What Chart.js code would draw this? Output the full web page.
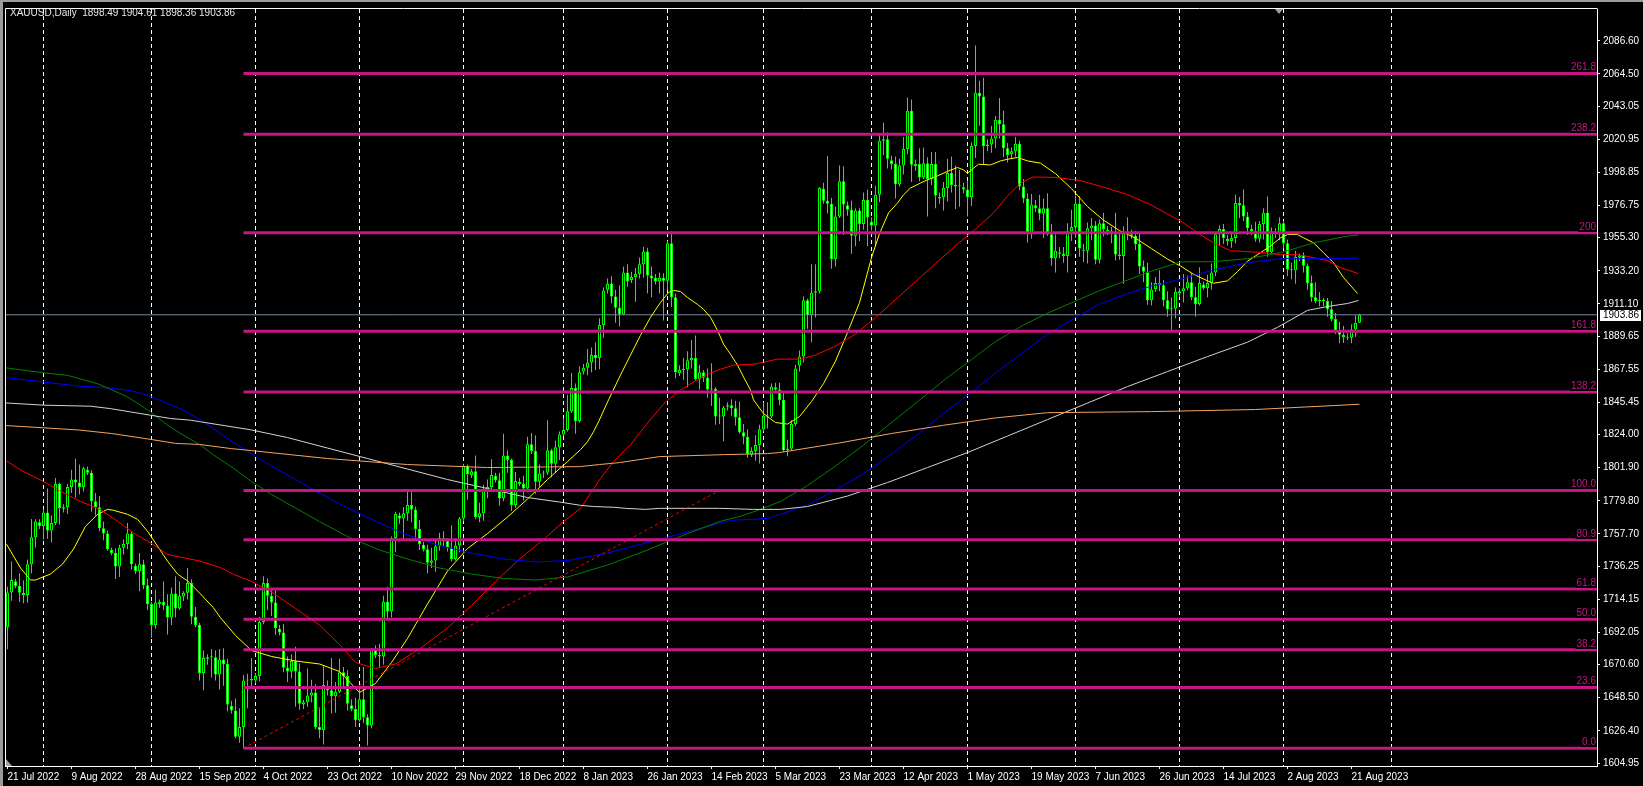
<!DOCTYPE html>
<html><head><meta charset="utf-8">
<script src="https://cdn.jsdelivr.net/npm/chart.js@4.4.1/dist/chart.umd.min.js"></script>
<style>html,body{margin:0;padding:0;background:#000;overflow:hidden}</style>
</head><body>
<canvas id="c" width="1643" height="786"></canvas>
<script>
// ---- categories: one daily bar per day (no Saturday bars), from 21 Jul 2022 ----
const firstBarDate = '2022-07-21';
const closedDays = ['2022-12-25','2023-01-01','2023-04-07'];
const lastGridDate = '2023-09-01';

// ---- OHLC series (one line per week) ----
const opens = [
1695.5,1718.7,
1726.2,1723.0,1718.5,1717.0,1737.5,1755.5,
1765.5,1763.0,1772.0,1760.0,1765.0,1791.0,
1774.5,1775.5,1789.0,1794.0,1792.0,1789.0,
1800.5,1798.5,1779.5,1775.5,1761.5,1758.0,
1747.0,1745.0,1736.0,1748.5,1751.0,1758.0,
1736.5,1733.0,1737.5,1723.5,1711.0,1697.0,
1711.0,1712.5,1710.0,1702.0,1718.0,1708.0,
1716.0,1718.5,1725.0,1702.5,1697.0,1665.0,
1674.5,1675.5,1675.5,1664.0,1674.0,1671.0,
1643.0,1640.0,1622.5,1629.0,1660.0,1660.0,
1660.0,1663.0,1699.0,1725.0,1716.5,1712.0,
1694.5,1692.0,1668.5,1666.0,1673.0,1666.0,
1644.0,1645.5,1650.0,1652.0,1629.0,1627.0,
1656.0,1653.5,1649.5,1652.5,1665.5,1663.0,
1643.5,1641.0,1633.5,1647.5,1635.5,1630.0,
1680.5,1677.0,1676.0,1712.5,1706.0,1755.0,
1770.0,1768.0,1771.5,1777.0,1774.0,1761.0,
1750.5,1747.5,1738.5,1740.0,1749.5,1755.0,
1753.0,1748.5,1741.0,1750.0,1768.0,1803.0,
1797.0,1799.5,1769.0,1771.5,1786.5,1789.0,
1796.5,1793.5,1781.5,1810.0,1807.0,1777.0,
1792.5,1791.0,1788.0,1817.5,1813.0,1792.5,
1798.0,1798.5,1813.5,1804.5,1815.5,
1824.0,1827.0,1839.5,1855.0,1833.0,
1866.0,1868.5,1872.0,1877.0,1875.0,1897.0,
1920.5,1924.5,1916.0,1908.5,1904.0,1932.0,
1927.0,1929.0,1931.0,1937.5,1946.0,1930.0,
1928.5,1926.0,1928.5,1926.5,1951.5,1915.5,
1865.0,1867.0,1867.5,1873.5,1875.0,1861.0,
1865.5,1862.0,1854.0,1854.5,1836.0,1836.0,
1842.5,1843.5,1841.5,1835.5,1825.5,1822.5,
1810.5,1813.0,1817.0,1827.5,1836.5,1836.0,
1855.5,1854.0,1847.0,1813.5,1814.5,1831.0,
1870.0,1876.0,1913.5,1903.5,1918.5,1919.5,
1988.0,1980.0,1978.0,1941.0,1969.5,1993.0,
1977.0,1974.0,1956.5,1973.5,1964.5,1980.5,
1966.0,1963.5,1984.0,2020.0,2021.0,
2007.0,2004.5,1991.0,2003.5,2014.5,2040.0,
2003.0,2004.5,1995.5,2005.0,1994.5,2004.5,
1981.5,1982.5,1988.5,1998.5,1990.5,1989.5,
1989.0,1987.5,1982.5,2016.5,2052.0,2049.5,
2016.5,2017.5,2021.5,2034.0,2031.0,2015.0,
2011.0,2013.0,2018.0,1989.5,1981.5,1958.5,
1977.0,1975.0,1971.5,1975.0,1957.5,1941.5,
1945.5,1944.5,1943.0,1959.5,1962.5,1978.0,
1947.0,1946.5,1961.5,1963.5,1940.5,1965.0,
1960.5,1959.5,1957.5,1944.0,1943.0,1958.0,
1957.5,1956.5,1951.0,1936.0,1932.5,1913.5,
1921.0,1925.0,1923.5,1913.5,1907.5,1908.0,
1918.0,1919.5,1921.5,1925.5,1915.5,1911.0,
1924.0,1921.5,1925.0,1932.0,1957.5,1961.0,
1954.5,1953.0,1955.0,1978.5,1977.0,1969.5,
1961.0,1959.5,1954.5,1964.5,1972.0,1945.5,
1959.0,1957.5,1965.0,1951.5,1934.0,1933.5,
1942.0,1943.5,1936.5,1925.0,1915.5,1913.0,
1913.0,1913.0,1907.5,1901.0,1893.5,1890.5,
1889.0,1888.5,1894.0,1898.49];

const highs = [
1722.5,1739.4,
1727.8,1731.5,1726.8,1740.6,1767.6,1767.5,
1767.5,1774.2,1788.0,1770.0,1795.0,1792.0,
1777.5,1791.0,1800.5,1807.9,1804.0,1802.5,
1802.5,1800.0,1785.0,1783.0,1766.0,1760.0,
1748.5,1748.0,1750.5,1754.0,1765.0,1759.5,
1738.0,1745.0,1740.5,1728.0,1712.5,1720.5,
1714.0,1726.0,1717.5,1722.0,1729.5,1726.0,
1719.5,1735.0,1727.5,1709.0,1698.5,1680.0,
1677.5,1681.0,1680.0,1681.0,1681.5,1674.5,
1646.5,1648.0,1641.5,1663.5,1664.5,1675.0,
1665.0,1702.5,1729.5,1728.0,1721.5,1720.0,
1697.0,1697.5,1676.0,1677.5,1682.5,1671.5,
1647.0,1668.0,1660.5,1657.5,1641.5,1669.5,
1660.0,1675.0,1659.0,1674.5,1669.0,1667.0,
1647.5,1648.5,1656.5,1669.0,1637.5,1681.5,
1683.5,1684.5,1716.5,1722.5,1756.0,1772.5,
1772.0,1775.5,1786.5,1785.5,1776.0,1767.0,
1752.5,1750.5,1748.5,1754.5,1758.5,1759.5,
1755.0,1763.5,1754.5,1769.0,1804.5,1804.0,
1801.0,1810.0,1778.5,1790.5,1794.0,1807.5,
1798.5,1798.5,1824.5,1813.5,1808.0,1799.0,
1795.0,1796.5,1822.5,1825.0,1823.5,1804.0,
1800.0,1833.5,1814.5,1820.0,1826.0,
1835.0,1850.5,1865.0,1858.0,1869.5,
1871.0,1881.0,1882.0,1885.5,1901.5,1922.0,
1928.0,1929.5,1920.5,1923.5,1936.0,1937.5,
1932.5,1935.0,1942.0,1949.0,1948.5,1936.0,
1931.0,1932.0,1931.5,1953.0,1959.6,1918.0,
1870.0,1875.0,1879.5,1887.0,1890.0,1870.5,
1867.0,1868.0,1871.5,1855.5,1848.5,1843.0,
1845.5,1847.5,1846.5,1846.0,1831.0,1827.5,
1815.5,1823.5,1830.5,1845.5,1845.5,1858.0,
1858.5,1858.5,1853.0,1820.5,1833.5,1870.5,
1880.0,1916.0,1914.5,1937.5,1937.5,1989.0,
1992.0,2009.8,1982.0,1976.0,2003.5,2003.0,
1979.5,1980.0,1975.0,1975.0,1985.5,1987.5,
1969.0,1990.0,2025.0,2032.0,2025.5,
2010.0,2009.5,2008.0,2022.5,2048.7,2047.5,
2007.5,2015.0,2015.5,2009.0,2012.5,2012.5,
1985.5,1992.5,2008.0,2009.5,2003.5,2000.5,
1992.0,1993.5,2019.0,2083.5,2060.0,2062.0,
2021.0,2030.0,2036.5,2048.5,2040.0,2018.5,
2015.5,2022.5,2020.0,1994.5,1985.0,1984.5,
1980.5,1984.0,1981.5,1985.0,1964.5,1957.5,
1949.0,1949.0,1965.0,1974.0,1983.5,1983.0,
1951.0,1965.5,1968.5,1966.5,1967.5,1972.0,
1963.0,1962.5,1972.0,1958.0,1963.0,1969.0,
1960.5,1959.5,1958.0,1940.0,1938.5,1925.5,
1929.0,1933.5,1927.0,1919.5,1915.5,1922.0,
1921.5,1931.0,1930.0,1931.5,1922.5,1935.5,
1926.0,1930.5,1938.0,1959.0,1963.5,1964.5,
1957.0,1958.5,1984.0,1982.5,1987.5,1972.5,
1964.0,1966.0,1966.5,1975.0,1982.7,1962.0,
1961.5,1969.0,1966.5,1954.0,1938.5,1946.5,
1944.5,1945.5,1938.0,1930.0,1925.5,1919.0,
1915.0,1915.0,1913.0,1905.0,1899.0,1896.5,
1891.5,1897.5,1903.5,1904.61];

const lows = [
1680.8,1713.2,
1721.5,1712.3,1711.5,1711.8,1731.5,1748.6,
1761.0,1754.0,1754.5,1752.0,1763.5,1764.0,
1772.0,1771.0,1785.0,1782.0,1784.0,1786.0,
1797.0,1772.5,1770.0,1759.5,1753.5,1746.5,
1743.5,1727.7,1729.0,1744.0,1747.5,1734.0,
1731.0,1719.5,1720.8,1707.0,1688.5,1694.5,
1708.5,1707.0,1690.6,1697.0,1702.0,1707.0,
1713.0,1714.0,1697.5,1695.5,1660.0,1653.5,
1670.5,1662.0,1660.0,1654.0,1656.5,1639.5,
1638.0,1621.5,1618.5,1614.9,1641.5,1655.0,
1658.0,1659.5,1697.5,1707.0,1703.0,1690.5,
1690.0,1665.5,1659.0,1661.5,1642.5,1640.5,
1641.0,1642.5,1645.5,1627.5,1621.5,1617.3,
1650.0,1638.0,1638.5,1651.5,1654.5,1640.0,
1639.5,1629.0,1632.5,1631.5,1616.7,1628.0,
1675.0,1668.5,1670.5,1700.0,1702.0,1745.5,
1764.5,1753.5,1766.5,1765.5,1754.0,1747.0,
1746.0,1731.5,1735.0,1732.5,1746.5,1749.0,
1746.0,1739.5,1740.0,1745.5,1766.0,1780.5,
1795.0,1767.5,1765.5,1766.5,1781.5,1785.5,
1792.0,1776.5,1779.5,1798.5,1773.0,1775.0,
1789.5,1780.0,1785.5,1811.0,1784.5,1789.0,
1795.0,1797.0,1795.5,1798.5,1807.0,
1823.0,1826.0,1838.5,1824.5,1832.0,
1864.0,1863.5,1865.5,1867.0,1867.5,1888.5,
1918.0,1911.5,1898.5,1896.0,1903.5,1922.5,
1925.0,1912.5,1928.0,1928.5,1918.0,1915.5,
1924.0,1918.0,1900.0,1920.5,1909.0,1861.5,
1863.0,1860.5,1855.5,1868.0,1860.0,1854.0,
1859.0,1848.5,1843.0,1830.5,1831.0,1819.5,
1840.0,1836.5,1830.0,1824.5,1817.5,1808.5,
1809.0,1806.5,1804.7,1826.0,1828.0,1835.0,
1853.0,1843.5,1812.5,1809.5,1813.0,1829.5,
1866.0,1872.0,1894.5,1885.5,1902.0,1918.0,
1978.0,1971.5,1934.5,1936.0,1968.5,1957.0,
1970.0,1944.5,1949.5,1953.0,1960.5,1949.5,
1960.0,1949.5,1979.0,2010.5,2001.5,
2001.0,1981.5,1989.5,1997.5,2011.0,1992.5,
2000.0,1993.0,1994.5,1969.5,1990.5,1975.0,
1978.0,1973.5,1979.5,1985.5,1974.5,1976.0,
1985.0,1969.5,1976.5,2008.5,2030.0,2004.0,
2013.0,2012.0,2015.0,2021.5,2009.0,2005.5,
2008.0,2009.5,1987.0,1978.5,1952.0,1954.5,
1972.5,1967.0,1955.0,1956.5,1936.5,1932.0,
1941.5,1938.5,1932.0,1953.0,1955.0,1942.5,
1939.0,1938.0,1953.5,1937.5,1938.0,1956.0,
1957.0,1951.5,1940.0,1940.5,1924.5,1953.5,
1954.5,1947.0,1931.0,1925.5,1910.5,1910.0,
1919.0,1919.5,1909.5,1902.5,1893.0,1901.5,
1915.5,1912.0,1920.0,1913.5,1902.5,1910.0,
1920.5,1915.5,1920.5,1929.5,1950.0,1951.0,
1950.0,1948.5,1951.5,1968.5,1966.5,1957.0,
1957.0,1952.5,1952.0,1954.0,1942.5,1945.0,
1955.0,1953.5,1948.0,1929.5,1927.5,1924.5,
1939.5,1932.0,1920.5,1912.5,1911.5,1909.5,
1909.5,1902.5,1899.5,1891.0,1884.9,1885.0,
1887.0,1884.9,1889.0,1898.36];

const closes = [
1718.7,1727.0,
1723.0,1718.5,1717.0,1737.5,1755.5,1766.0,
1763.0,1772.0,1760.0,1765.0,1791.0,1775.0,
1775.5,1789.0,1794.0,1792.0,1789.0,1801.5,
1798.5,1779.5,1775.5,1761.5,1758.0,1747.5,
1745.0,1736.0,1748.5,1751.0,1758.0,1737.5,
1733.0,1737.5,1723.5,1711.0,1697.0,1712.0,
1712.5,1710.0,1702.0,1718.0,1708.0,1716.5,
1718.5,1725.0,1702.5,1697.0,1665.0,1675.0,
1675.5,1675.5,1664.0,1674.0,1671.0,1644.0,
1640.0,1622.5,1629.0,1660.0,1660.0,1661.0,
1663.0,1699.0,1725.0,1716.5,1712.0,1695.0,
1692.0,1668.5,1666.0,1673.0,1666.0,1644.5,
1645.5,1650.0,1652.0,1629.0,1627.0,1657.0,
1653.5,1649.5,1652.5,1665.5,1663.0,1644.5,
1641.0,1633.5,1647.5,1635.5,1630.0,1681.0,
1677.0,1676.0,1712.5,1706.0,1755.0,1771.0,
1768.0,1771.5,1777.0,1774.0,1761.0,1751.0,
1747.5,1738.5,1740.0,1749.5,1755.0,1754.0,
1748.5,1741.0,1750.0,1768.0,1803.0,1797.5,
1799.5,1769.0,1771.5,1786.5,1789.0,1797.0,
1793.5,1781.5,1810.0,1807.0,1777.0,1793.0,
1791.0,1788.0,1817.5,1813.0,1792.5,1798.0,
1798.5,1813.5,1804.5,1815.5,1824.0,
1827.0,1839.5,1855.0,1833.0,1865.5,
1868.5,1872.0,1877.0,1875.0,1897.0,1920.0,
1924.5,1916.0,1908.5,1904.0,1932.0,1926.0,
1929.0,1931.0,1937.5,1946.0,1930.0,1928.0,
1926.0,1928.5,1926.5,1951.5,1915.5,1865.5,
1867.0,1867.5,1873.5,1875.0,1861.0,1865.5,
1862.0,1854.0,1854.5,1836.0,1836.0,1842.0,
1843.5,1841.5,1835.5,1825.5,1822.5,1811.0,
1813.0,1817.0,1827.5,1836.5,1836.0,1856.0,
1854.0,1847.0,1813.5,1814.5,1831.0,1868.0,
1876.0,1913.5,1903.5,1918.5,1919.5,1988.5,
1980.0,1978.0,1941.0,1969.5,1993.0,1977.5,
1974.0,1956.5,1973.5,1964.5,1980.5,1969.0,
1963.5,1984.0,2020.0,2021.0,2008.0,
2004.5,1991.0,2003.5,2014.5,2040.0,2004.0,
2004.5,1995.5,2005.0,1994.5,2004.5,1983.5,
1982.5,1988.5,1998.5,1990.5,1989.5,1990.0,
1987.5,1982.5,2016.5,2052.0,2049.5,2016.5,
2017.5,2021.5,2034.0,2031.0,2015.0,2010.5,
2013.0,2018.0,1989.5,1981.5,1958.5,1977.5,
1975.0,1971.5,1975.0,1957.5,1941.5,1946.5,
1944.5,1943.0,1959.5,1962.5,1978.0,1948.0,
1946.5,1961.5,1963.5,1940.5,1965.0,1961.0,
1959.5,1957.5,1944.0,1943.0,1958.0,1958.0,
1956.5,1951.0,1936.0,1932.5,1913.5,1920.5,
1925.0,1923.5,1913.5,1907.5,1908.0,1919.0,
1919.5,1921.5,1925.5,1915.5,1911.0,1925.0,
1921.5,1925.0,1932.0,1957.5,1961.0,1955.0,
1953.0,1955.0,1978.5,1977.0,1969.5,1961.5,
1959.5,1954.5,1964.5,1972.0,1945.5,1959.5,
1957.5,1965.0,1951.5,1934.0,1933.5,1942.5,
1943.5,1936.5,1925.0,1915.5,1913.0,1913.5,
1913.0,1907.5,1901.0,1893.5,1890.5,1889.0,
1888.5,1894.0,1898.5,1903.86];

// ---- moving averages: [bar index, price] ----
const maYellow = [[-0.25,1750.9],[3.25,1735.0],[5.75,1727.0],[7,1727.0],[10.75,1731.0],[13.75,1737.6],[16.5,1747.6],[19.5,1762.8],[22.5,1770.8],[25,1774.1],[26.5,1773.5],[30,1770.8],[32.5,1767.5],[35,1759.5],[37.5,1749.6],[40,1739.6],[42.5,1731.0],[45,1726.4],[48.25,1717.7],[51.5,1708.4],[53.25,1701.8],[57,1690],[61,1680],[66,1676],[72,1673],[78,1671],[83,1666],[88,1652],[92,1658],[96,1672],[100,1688],[105,1711],[110,1733],[115,1748],[120,1758],[125,1769],[130,1781],[135,1794],[140,1806],[143.25,1813.9],[145,1819.2],[146.5,1825.9],[147.75,1832.5],[150.25,1847.1],[153.25,1863.7],[155.75,1877.0],[158.25,1890.2],[160.75,1902.2],[163.25,1912.1],[165.25,1918.8],[166.5,1920.1],[168.25,1919.4],[170,1915.4],[172.5,1910.8],[174,1907.5],[175.75,1902.2],[177.5,1893.5],[179,1884.3],[180.75,1877.6],[182.5,1870.3],[184,1862.4],[185.75,1853.7],[186.5,1847.1],[189,1838],[192,1832],[195,1831],[198,1836],[201,1846],[204,1858],[207,1873],[210,1892],[213,1912],[216,1942],[218,1958],[220.25,1971.8],[222.5,1978.4],[224,1983.9],[225.75,1988.4],[228.25,1991.7],[230,1993.9],[232.5,1996.5],[235,1999.5],[237.5,2002.1],[239,2000.5],[240,1998.3],[241.5,2001.6],[242.75,2004.3],[245.75,2003.8],[248.25,2006.5],[250,2007.6],[252.5,2008.8],[255,2006.5],[258.25,2005],[262,1998],[266,1988],[270,1976],[274,1967],[278,1960],[282,1955],[286,1948],[290,1941],[293.25,1936.4],[296.5,1930.9],[300,1926.5],[301.5,1924.9],[305,1926.5],[307.5,1932.7],[310,1939.6],[313.25,1945.3],[315.75,1949.7],[318.25,1955.2],[320,1957.4],[322.5,1957.4],[324,1955.2],[326.5,1951.9],[329,1945.3],[331.5,1938.6],[334,1928.7],[337.5,1918.1]];
const maRed = [[-0.25,1806.4],[3.25,1800.4],[9,1792.7],[13.25,1786.1],[18.25,1779.4],[23.25,1773.9],[27.5,1766.2],[31.5,1758.4],[35.75,1751.8],[40,1744.1],[44,1741.8],[48.25,1739.6],[53.25,1735.2],[56.5,1730.8],[60.75,1726.4],[66,1719],[72,1708],[78,1697],[83,1684],[87,1672],[92,1668],[97,1671],[103,1681],[110,1695],[116,1710],[122,1726],[128,1741],[134,1754],[139,1766],[143.25,1774.8],[145.75,1784.8],[148.25,1794.7],[151.5,1806],[155.75,1817.2],[160.25,1832.5],[164.5,1845.8],[168.25,1853.7],[171.5,1859],[175,1864.3],[178.25,1867.6],[181.5,1870.3],[186.5,1870.9],[189,1872.3],[192.5,1874.3],[198.25,1874.3],[202,1877],[207,1883],[212,1891],[217,1902],[222,1914],[227,1926],[232,1938],[237,1950],[242,1961],[246.5,1971.8],[250,1983.1],[253.25,1991.7],[256.25,1995.7],[258.25,1995.7],[262,1995.5],[268,1993.5],[274,1989],[280,1984],[286,1977],[290,1971],[293.25,1966.5],[296.5,1960.5],[298.25,1957.2],[301.5,1951.9],[305.75,1946.6],[310,1946],[314,1945.3],[318.25,1944],[322.5,1944],[326.5,1942],[330,1940],[333.25,1935.3],[337.75,1931.3]];
const maGreen = [[-0.5,1868.5],[9,1865.2],[15,1863.5],[22.5,1857.9],[25.75,1854.2],[30,1849.1],[33.25,1843.6],[35.75,1839.1],[40,1830.3],[43.25,1824.7],[48.25,1817.0],[51.5,1810.4],[56.5,1801.5],[60.75,1793.2],[66,1784],[72,1775],[78,1766],[85,1756],[93,1747],[100,1741],[108,1735],[116,1731],[124,1728],[132,1727],[140,1729],[150,1737],[160,1747],[170,1758],[178.25,1766.2],[183.25,1769.5],[188.25,1774.1],[193.25,1779.4],[200,1790],[207,1803],[214,1817],[221,1832],[228,1847],[234,1860],[241,1874],[247,1886],[254,1897],[260,1905],[267,1913],[273,1920],[280,1927],[286,1933],[293.25,1939.1],[301.5,1939.3],[310,1941.3],[318.25,1945.3],[322.5,1948.6],[326.5,1951.9],[330,1953.7],[335,1956.4],[337.75,1957.0]];
const maBlue = [[-0.5,1862.1],[9,1859.0],[18.25,1856.2],[23.25,1855.5],[28.25,1854.2],[31.5,1852.9],[35.75,1849.5],[40,1844.6],[44,1840.3],[49,1832.5],[55,1821.4],[60.75,1811.5],[66,1803],[72,1794],[78,1785],[85,1775],[93,1765],[100,1757],[108,1750],[116,1745],[124,1741],[132,1739],[140,1740],[150,1745],[160,1752],[170,1759],[180.75,1766.8],[186.5,1767.5],[190,1768.1],[193.25,1770.8],[200,1777],[207,1787],[214,1798],[221,1811],[228,1825],[234,1838],[241,1852],[247,1865],[254,1879],[260,1891],[267,1902],[273,1911],[280,1918],[286,1923],[293.25,1927.6],[301.5,1933.8],[310,1938.6],[318.25,1941.3],[326.5,1941.3],[337.75,1941.6]];
const maWhite = [[-0.5,1845.1],[9,1843.6],[20.75,1842.9],[25.75,1841.3],[30.75,1839.1],[35.75,1836.9],[40.75,1834.7],[45.75,1833.6],[48.25,1832.5],[60.75,1827.2],[70,1822],[80,1815],[90,1808],[100,1801],[110,1794],[120,1788],[130,1782],[138,1779],[143.25,1776.8],[146.5,1776],[151.5,1775.5],[154.5,1774.8],[159.5,1774.1],[163,1774.8],[178,1774.8],[186.5,1774.1],[193.25,1774.1],[200,1776],[210,1783],[220,1792],[230,1802],[240,1812],[250,1823],[260,1834],[270,1845],[280,1856],[290,1866],[300,1876],[310,1885.6],[317.5,1895.5],[325,1906.8],[330,1909.4],[335,1911.4],[337.75,1913.4]];
const maOrange = [[-0.5,1830.0],[9,1828.5],[18,1827.0],[26,1824.7],[36,1820.7],[42,1818.1],[48,1817.4],[56,1814.6],[61,1813.3],[80,1808],[100,1804],[120,1802],[143,1802.6],[148,1804.0],[153,1805.3],[163,1809.3],[179,1810.6],[190,1811.3],[193,1812.0],[208,1818.4],[221,1824.7],[234,1830.2],[247,1835.1],[260,1838.6],[286,1839.3],[312,1840.7],[338,1844.2]];

// ---- Fibonacci object ----
const fibLow = 1614.8, fibHigh = 1786.7;
const fibStartDate = '2022-09-28', fibEndDate = '2023-02-16';
const fibLevels = [0,23.6,38.2,50,61.8,80.9,100,138.2,161.8,200,238.2,261.8];
const fibTexts  = ['0.0','23.6','38.2','50.0','61.8','80.9','100.0','138.2','161.8','200','238.2','261.8'];

// ---- axes ----
const yTicks = [1604.95,1626.40,1648.50,1670.60,1692.05,1714.15,1736.25,1757.70,1779.80,1801.90,1824.00,1845.45,1867.55,1889.65,1911.10,1933.20,1955.30,1976.75,1998.85,2020.95,2043.05,2064.50,2086.60];
const labelDates = ['2022-07-21','2022-08-09','2022-08-28','2022-09-15','2022-10-04','2022-10-23','2022-11-10','2022-11-29','2022-12-18','2023-01-08','2023-01-26','2023-02-14','2023-03-05','2023-03-23','2023-04-12','2023-05-01','2023-05-19','2023-06-07','2023-06-26','2023-07-14','2023-08-02','2023-08-21'];
const labelTexts = ['21 Jul 2022','9 Aug 2022','28 Aug 2022','15 Sep 2022','4 Oct 2022','23 Oct 2022','10 Nov 2022','29 Nov 2022','18 Dec 2022','8 Jan 2023','26 Jan 2023','14 Feb 2023','5 Mar 2023','23 Mar 2023','12 Apr 2023','1 May 2023','19 May 2023','7 Jun 2023','26 Jun 2023','14 Jul 2023','2 Aug 2023','21 Aug 2023'];
const titleText = 'XAUUSD,Daily  1898.49 1904.61 1898.36 1903.86';
const lastPrice = 1903.86;

// ---- build ----
const xMin = -0.625, xMax = 397.375;
const yMin = 1602.96, yMax = 2107.8;
function barDates(n){
  const out=[]; const d=new Date(firstBarDate+'T00:00:00Z');
  while(out.length<n){const s=d.toISOString().slice(0,10); if(d.getUTCDay()!==6 && !closedDays.includes(s)) out.push(s); d.setUTCDate(d.getUTCDate()+1);}
  return out;
}
const dates = barDates(closes.length + 80);
const monthStarts = [];
for(let i=1;i<dates.length;i++){ if(dates[i].slice(0,7)!==dates[i-1].slice(0,7) && dates[i]<=lastGridDate) monthStarts.push(i); }
const labelIdx = {}; labelDates.forEach((d,k)=>{labelIdx[dates.indexOf(d)] = labelTexts[k];});
const fibStart = dates.indexOf(fibStartDate), fibEnd = dates.indexOf(fibEndDate);

const idx = closes.map((_,i)=>i);
const wickData = idx.map(i=>({x:i,y:[lows[i],highs[i]]}));
const bodyData = idx.map(i=>({x:i,y:[Math.min(opens[i],closes[i]),Math.max(opens[i],closes[i])]}));
const bodyFill = idx.map(i=> closes[i]>=opens[i] ? '#000000' : '#ffffff');

const FONT = '"Liberation Sans", Arial, sans-serif';
const FIB = '#C71585';
const lineDs = (arr,color)=>({type:'line',data:arr.map(p=>({x:p[0],y:p[1]})),borderColor:color,borderWidth:1,pointRadius:0,tension:0,order:2});

const datasets = [
  {type:'bar',data:wickData,backgroundColor:'#00ff00',borderWidth:0,barThickness:1,grouped:false,inflateAmount:0,minBarLength:1,order:5},
  {type:'bar',data:bodyData,backgroundColor:bodyFill,borderColor:'#00ff00',borderWidth:1,borderSkipped:false,barThickness:3,grouped:false,inflateAmount:0,minBarLength:1,order:4},
  lineDs(maOrange,'#F4A460'),
  lineDs(maWhite,'#D3D3D3'),
  lineDs(maGreen,'#008000'),
  lineDs(maBlue,'#0000FF'),
  lineDs(maRed,'#FF0000'),
  lineDs(maYellow,'#FFFF00'),
  {type:'line',data:[{x:xMin,y:lastPrice},{x:xMax,y:lastPrice}],borderColor:'#778899',borderWidth:1,pointRadius:0,order:3},
  {type:'line',data:[{x:fibStart,y:fibLow},{x:fibEnd,y:fibHigh}],borderColor:'#FF0000',borderWidth:1,borderDash:[3,3],pointRadius:0,order:1}
];
fibLevels.forEach(l=>{
  const p = fibLow + (fibHigh-fibLow)*l/100;
  datasets.push({type:'line',data:[{x:fibStart,y:p},{x:xMax,y:p}],borderColor:FIB,borderWidth:3,pointRadius:0,order:0});
});

const decor = {
  id:'decor',
  beforeDraw(chart){const c=chart.ctx;c.save();c.fillStyle='#000';c.fillRect(0,0,chart.width,chart.height);c.restore();},
  afterDatasetsDraw(chart){
    const c=chart.ctx, a=chart.chartArea, ys=chart.scales.y;
    c.save(); c.font='10px '+FONT; c.textAlign='right'; c.textBaseline='bottom';
    fibLevels.forEach((l,k)=>{
      const p=fibLow+(fibHigh-fibLow)*l/100; const y=Math.round(ys.getPixelForValue(p));
      const w=c.measureText(fibTexts[k]).width;
      c.fillStyle='#000'; c.fillRect(a.right-2-w, y-12, w+2, 11);
      c.fillStyle=FIB; c.fillText(fibTexts[k], a.right-1, y-1);
    });
    c.restore();
  },
  afterDraw(chart){
    const c=chart.ctx, a=chart.chartArea, ys=chart.scales.y;
    c.save();
    c.fillStyle='#9a9a9a'; c.fillRect(0,0,chart.width,2); c.fillRect(0,0,3,chart.height);
    c.strokeStyle='#ffffff'; c.lineWidth=1;
    c.beginPath(); c.moveTo(a.left+0.5,a.top-0.5); c.lineTo(a.right+0.5,a.top-0.5); c.moveTo(a.left+0.5,a.top-0.5); c.lineTo(a.left+0.5,a.bottom); c.stroke();
    c.font='10px '+FONT; c.fillStyle='#e6e6e6'; c.textAlign='left'; c.textBaseline='middle';
    c.fillText(titleText, 10, 13);
    const py=Math.round(ys.getPixelForValue(lastPrice));
    c.fillStyle='#ffffff'; c.fillRect(a.right+3, py-5, 41, 11);
    c.fillStyle='#000000'; c.fillText(lastPrice.toFixed(2), a.right+6, py+0.5);
    c.fillStyle='#a0a0a0';
    c.beginPath(); c.moveTo(1275,a.top); c.lineTo(1283,a.top); c.lineTo(1279,a.top+5); c.closePath(); c.fill();
    c.beginPath(); c.moveTo(a.left+1,a.bottom-7); c.lineTo(a.left+1,a.bottom); c.lineTo(a.left+7,a.bottom); c.closePath(); c.fill();
    c.restore();
  }
};

new Chart(document.getElementById('c'), {
  type:'bar',
  data:{datasets},
  options:{
    responsive:false, animation:false, devicePixelRatio:1,
    layout:{padding:{left:5,top:5,right:0,bottom:0}},
    plugins:{legend:{display:false},tooltip:{enabled:false}},
    scales:{
      x:{type:'linear',position:'bottom',min:xMin,max:xMax,offset:false,
         afterBuildTicks:s=>{s.ticks=monthStarts.map(v=>({value:v}));},
         ticks:{display:false},
         grid:{display:true,offset:false,drawOnChartArea:true,drawTicks:false,color:'#ffffff',lineWidth:1},
         border:{display:false,dash:[4,3]},
         afterFit:s=>{s.height=0;}},
      xl:{type:'linear',position:'bottom',min:xMin,max:xMax,offset:false,
         afterBuildTicks:s=>{s.ticks=Object.keys(labelIdx).map(v=>({value:+v}));},
         ticks:{autoSkip:false,maxRotation:0,minRotation:0,align:'start',color:'#ffffff',padding:2,font:{family:FONT,size:10},callback:v=>labelIdx[v]},
         grid:{offset:false,drawOnChartArea:false,drawTicks:true,tickLength:3,color:'#ffffff'},
         border:{display:true,color:'#ffffff'},
         afterFit:s=>{s.height=20;}},
      y:{type:'linear',position:'right',min:yMin,max:yMax,
         afterBuildTicks:s=>{s.ticks=yTicks.map(v=>({value:v}));},
         ticks:{autoSkip:false,color:'#ffffff',padding:3,font:{family:FONT,size:10},callback:v=>v.toFixed(2)},
         grid:{drawOnChartArea:false,drawTicks:true,tickLength:3,color:'#ffffff'},
         border:{display:true,color:'#ffffff'},
         afterFit:s=>{s.width=46;}}
    }
  },
  plugins:[decor]
});
</script>
</body></html>
